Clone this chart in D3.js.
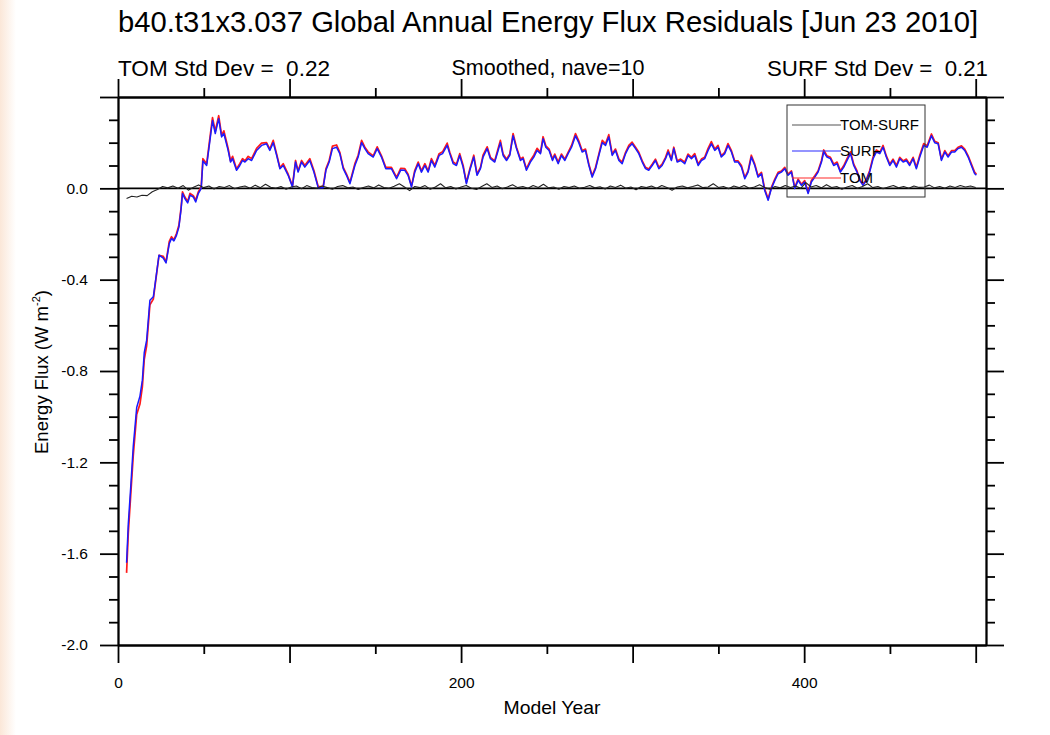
<!DOCTYPE html>
<html>
<head>
<meta charset="utf-8">
<script src="https://cdn.jsdelivr.net/npm/d3@7"></script>
<style>
  html, body { margin: 0; padding: 0; background: #ffffff; }
  svg text { font-family: "Liberation Sans", Arial, Helvetica, sans-serif; fill: #000; white-space: pre; }
</style>
</head>
<body>
<svg id="chart" width="1050" height="735"></svg>
<script>
// ---------------- DATA ----------------
const titleText = "b40.t31x3.037 Global Annual Energy Flux Residuals [Jun 23 2010]";
const leftSub = "TOM Std Dev =  0.22";
const centerSub = "Smoothed, nave=10";
const rightSub = "SURF Std Dev =  0.21";
const xAxisTitle = "Model Year";

const seriesNames = ["TOM-SURF", "SURF", "TOM"];

const years = [5,6,7.4,8.9,10.9,12.8,14.2,15.3,16.7,18.6,20.6,22.5,23.9,26.4,28,29.9,31.2,32.6,34.1,35.5,36.7,37.6,39,40.6,42,43.9,45.3,46.8,48.5,49.5,51.7,53.6,55.1,56.7,58.7,60.4,61.7,64.2,65.6,66.8,69.1,71,72.6,74,75.9,77.9,80.8,83.7,86.6,88.5,90.5,92.5,94.4,96.3,99.2,101.7,103.5,105,107,108.9,111.8,114.2,116.7,119.6,121.2,123.1,125,127.4,129.3,131.3,133.2,135.2,138.1,140,142,143.9,145.8,148.8,151.1,153.6,156.1,159.4,162.4,164.8,167.2,169.1,171.1,173,175,176.9,178.9,180.8,182.7,184.7,187.2,189.2,191.9,193.4,195.4,197.3,199.2,201.2,203.1,205.1,207.4,209.3,211.3,212.8,215.2,217.1,219.6,221.6,222.9,224.5,226.5,228.4,230.3,232.3,234.6,236.1,238.1,240.4,242.4,244.3,246.3,247.8,249.4,251.3,253.3,254.6,256.6,258.5,260.5,262.4,264.4,266.7,268.6,270.6,272.5,274.5,276.4,278.4,280.3,282.3,284.2,286.1,288.1,290,292,293.9,295.9,297.8,299.7,301.7,303.6,305.6,307.5,309.4,311.4,313.3,315.3,317.2,319.2,320.7,322.6,324,326,328,330.4,332.3,334.3,336.2,338.2,340.1,342,344,345.9,347.9,349.8,351.7,353.7,355.6,357.6,359.5,361.5,363.4,365.4,367.3,369.2,371.2,373.1,375.1,377,379,380.9,382.9,384.8,386.7,388.7,390.6,392.6,394.5,396.5,398.4,400.3,402.3,404.2,406.2,408.1,410.1,411.4,413.3,415.3,417.2,419.2,421.1,423.1,425,427,428.9,430.8,432.4,434.3,436.3,438.2,440.2,442.1,444.1,446,447.9,449.9,451.8,453.8,455.7,457.7,459.6,461.5,463.5,465.4,467.4,469.7,471.7,474.2,476.1,478.1,480,482,483.9,485.9,487.8,489.7,491.7,493.6,495.6,497.5,499.4,500.4];

const surf = [-1.64,-1.47,-1.31,-1.13,-0.96,-0.91,-0.84,-0.72,-0.665,-0.49,-0.475,-0.37,-0.293,-0.306,-0.327,-0.242,-0.22,-0.23,-0.206,-0.17,-0.096,-0.023,-0.045,-0.064,-0.03,-0.038,-0.06,-0.023,0.0,0.12,0.10,0.21,0.297,0.24,0.305,0.225,0.24,0.166,0.115,0.13,0.079,0.10,0.122,0.115,0.13,0.122,0.166,0.188,0.195,0.166,0.20,0.144,0.086,0.10,0.057,0.006,0.115,0.071,0.115,0.093,0.122,0.071,0.003,0.003,0.079,0.115,0.174,0.18,0.152,0.086,0.057,0.02,0.10,0.137,0.20,0.174,0.152,0.137,0.174,0.137,0.086,0.086,0.042,0.08,0.079,0.057,0.006,0.071,0.108,0.071,0.10,0.071,0.122,0.093,0.144,0.152,0.188,0.152,0.108,0.10,0.144,0.093,0.02,0.079,0.137,0.057,0.086,0.137,0.174,0.13,0.115,0.166,0.20,0.144,0.122,0.144,0.23,0.174,0.122,0.13,0.079,0.115,0.137,0.166,0.152,0.217,0.18,0.166,0.122,0.144,0.108,0.144,0.122,0.152,0.18,0.23,0.20,0.159,0.166,0.10,0.049,0.086,0.144,0.20,0.188,0.225,0.144,0.166,0.122,0.108,0.152,0.18,0.195,0.174,0.152,0.115,0.086,0.079,0.10,0.122,0.086,0.10,0.13,0.159,0.122,0.174,0.115,0.122,0.108,0.144,0.13,0.144,0.10,0.122,0.13,0.166,0.195,0.166,0.18,0.137,0.152,0.188,0.159,0.115,0.115,0.093,0.042,0.071,0.137,0.10,0.049,0.064,-0.009,-0.052,-0.001,0.035,0.064,0.071,0.086,0.057,0.071,-0.001,0.035,0.013,0.028,-0.023,0.028,0.049,0.071,0.115,0.159,0.137,0.13,0.10,0.108,0.071,0.093,0.122,0.152,0.10,0.071,0.035,0.013,0.035,0.071,0.13,0.159,0.152,0.18,0.137,0.10,0.122,0.093,0.13,0.115,0.122,0.10,0.13,0.086,0.137,0.188,0.18,0.23,0.20,0.195,0.122,0.159,0.137,0.159,0.159,0.174,0.18,0.166,0.137,0.10,0.064,0.058];

const tom = [-1.684,-1.51,-1.345,-1.17,-0.99,-0.945,-0.87,-0.75,-0.69,-0.51,-0.485,-0.375,-0.293,-0.298,-0.322,-0.232,-0.212,-0.225,-0.198,-0.162,-0.09,-0.015,-0.038,-0.058,-0.022,-0.032,-0.052,-0.016,0.006,0.13,0.108,0.222,0.31,0.25,0.318,0.232,0.252,0.175,0.12,0.14,0.085,0.108,0.13,0.12,0.14,0.13,0.175,0.198,0.2,0.172,0.21,0.15,0.09,0.108,0.062,0.01,0.122,0.076,0.122,0.1,0.13,0.078,0.008,0.008,0.085,0.122,0.185,0.19,0.158,0.092,0.062,0.026,0.108,0.145,0.21,0.18,0.16,0.142,0.182,0.142,0.092,0.092,0.048,0.088,0.086,0.062,0.01,0.078,0.115,0.076,0.108,0.076,0.13,0.1,0.152,0.16,0.198,0.158,0.115,0.106,0.152,0.1,0.026,0.085,0.145,0.062,0.092,0.145,0.182,0.136,0.12,0.175,0.21,0.15,0.128,0.15,0.24,0.18,0.128,0.136,0.085,0.122,0.145,0.175,0.158,0.226,0.186,0.172,0.128,0.15,0.115,0.15,0.128,0.158,0.188,0.24,0.208,0.165,0.172,0.106,0.055,0.092,0.15,0.21,0.195,0.235,0.15,0.172,0.128,0.115,0.158,0.188,0.202,0.18,0.158,0.12,0.092,0.085,0.106,0.128,0.092,0.106,0.136,0.168,0.128,0.18,0.12,0.128,0.115,0.15,0.136,0.152,0.106,0.128,0.136,0.175,0.205,0.172,0.188,0.142,0.158,0.196,0.165,0.12,0.12,0.1,0.048,0.076,0.145,0.106,0.055,0.07,-0.003,-0.046,0.004,0.04,0.07,0.076,0.092,0.062,0.076,0.004,0.04,0.018,0.034,-0.018,0.034,0.055,0.076,0.122,0.168,0.142,0.136,0.106,0.115,0.076,0.1,0.13,0.16,0.106,0.076,0.04,0.018,0.04,0.078,0.138,0.168,0.158,0.188,0.142,0.106,0.128,0.1,0.136,0.12,0.128,0.106,0.136,0.092,0.145,0.196,0.186,0.238,0.206,0.2,0.128,0.165,0.142,0.165,0.165,0.18,0.186,0.172,0.142,0.106,0.07,0.062];

const diffStartYear = 5;
const diffStepYears = 3;
const diff = [-0.045,-0.035,-0.038,-0.03,-0.032,-0.015,-0.005,0.008,0.002,0.01,0.0,0.012,-0.008,0.005,0.015,0.003,0.01,-0.003,0.008,0.004,0.012,-0.002,0.006,0.01,0.0,0.014,0.003,0.018,0.005,0.0,0.008,-0.004,0.006,0.01,-0.002,0.012,0.004,0.0,0.01,0.003,-0.004,0.008,0.012,0.002,0.006,-0.005,0.004,0.01,0.002,0.015,0.004,0.0,0.009,0.02,0.006,-0.01,0.008,0.003,0.012,-0.004,0.006,0.02,0.002,0.008,-0.003,0.006,0.012,0.0,-0.005,0.008,0.02,0.004,0.01,-0.002,0.006,0.016,0.003,0.008,0.0,0.012,0.004,0.018,0.002,0.006,-0.004,0.008,0.003,0.01,0.0,0.005,0.012,0.002,0.007,-0.003,0.01,0.004,0.014,0.0,0.006,-0.006,0.008,0.003,0.01,0.0,0.012,0.004,-0.008,0.006,0.01,0.002,0.008,0.015,0.003,0.006,0.02,0.004,0.008,-0.002,0.01,0.003,0.012,0.0,0.006,0.016,0.004,-0.004,0.008,0.002,0.012,0.004,0.01,0.0,0.025,0.006,0.012,0.002,0.016,0.004,0.008,-0.004,0.006,0.012,0.0,0.008,0.02,0.003,0.008,-0.002,0.006,0.012,0.002,0.008,0.0,0.01,0.004,0.006,0.014,0.002,0.008,0.0,0.01,0.004,0.012,0.006,0.01,0.004];

const xMajorTicks = [0, 100, 200, 300, 400, 500];
const xLabeledTicks = [0, 200, 400];
const xMinorTicks = [50, 150, 250, 350, 450];
const yMajorTicks = [-2.0, -1.6, -1.2, -0.8, -0.4, 0.0, 0.4];
const yLabeledTicks = [-2.0, -1.6, -1.2, -0.8, -0.4, 0.0];
const yMinorTicks = [-1.9,-1.8,-1.7,-1.5,-1.4,-1.3,-1.1,-1.0,-0.9,-0.7,-0.6,-0.5,-0.3,-0.2,-0.1,0.1,0.2,0.3];

// ---------------- LAYOUT ----------------
const svg = d3.select("#chart");
const W = 1050, H = 735;
const plot = { left: 118, right: 986, top: 97, bottom: 645 };

// faint tinted strip at the left edge
const defs = svg.append("defs");
const grad = defs.append("linearGradient").attr("id", "edge").attr("x1", "0%").attr("x2", "100%");
grad.append("stop").attr("offset", "0%").attr("stop-color", "#fbe7d8");
grad.append("stop").attr("offset", "100%").attr("stop-color", "#ffffff");
svg.append("rect").attr("x", 0).attr("y", 0).attr("width", 16).attr("height", H).attr("fill", "url(#edge)");

const x = d3.scaleLinear().domain([0, 506]).range([plot.left, plot.right]);
const y = d3.scaleLinear().domain([-2.0, 0.4]).range([plot.bottom, plot.top]);

// ---------------- AXES ----------------
const axisStroke = 1.8;
function styleAxis(g) {
  g.selectAll("path.domain").attr("stroke", "#000").attr("stroke-width", axisStroke);
  g.selectAll(".tick line").attr("stroke", "#000").attr("stroke-width", axisStroke);
  g.selectAll(".tick text").attr("font-family", "Liberation Sans, Arial, sans-serif").attr("font-size", 15.5).attr("fill", "#000");
}
const fmtY = v => yLabeledTicks.some(t => Math.abs(t - v) < 1e-9) ? v.toFixed(1) : "";
const fmtX = v => xLabeledTicks.includes(v) ? String(v) : "";

// bottom
svg.append("g").attr("transform", `translate(0,${plot.bottom})`)
  .call(d3.axisBottom(x).tickValues(xMinorTicks).tickSize(9).tickSizeOuter(0).tickFormat(""))
  .call(styleAxis);
svg.append("g").attr("transform", `translate(0,${plot.bottom})`)
  .call(d3.axisBottom(x).tickValues(xMajorTicks).tickSize(18).tickSizeOuter(0).tickPadding(14).tickFormat(fmtX))
  .call(styleAxis);
// top
svg.append("g").attr("transform", `translate(0,${plot.top})`)
  .call(d3.axisTop(x).tickValues(xMinorTicks).tickSize(9).tickSizeOuter(0).tickFormat(""))
  .call(styleAxis);
svg.append("g").attr("transform", `translate(0,${plot.top})`)
  .call(d3.axisTop(x).tickValues(xMajorTicks).tickSize(18).tickSizeOuter(0).tickFormat(""))
  .call(styleAxis);
// left
svg.append("g").attr("transform", `translate(${plot.left},0)`)
  .call(d3.axisLeft(y).tickValues(yMinorTicks).tickSize(9).tickSizeOuter(0).tickFormat(""))
  .call(styleAxis);
svg.append("g").attr("transform", `translate(${plot.left},0)`)
  .call(d3.axisLeft(y).tickValues(yMajorTicks).tickSize(18).tickSizeOuter(0).tickPadding(12).tickFormat(fmtY))
  .call(styleAxis);
// right
svg.append("g").attr("transform", `translate(${plot.right},0)`)
  .call(d3.axisRight(y).tickValues(yMinorTicks).tickSize(9).tickSizeOuter(0).tickFormat(""))
  .call(styleAxis);
svg.append("g").attr("transform", `translate(${plot.right},0)`)
  .call(d3.axisRight(y).tickValues(yMajorTicks).tickSize(18).tickSizeOuter(0).tickFormat(""))
  .call(styleAxis);

// zero reference line
svg.append("line")
  .attr("x1", x(0)).attr("x2", x(506)).attr("y1", y(0)).attr("y2", y(0))
  .attr("stroke", "#000").attr("stroke-width", 1.6);

// ---------------- SERIES ----------------
const clip = defs.append("clipPath").attr("id", "plotclip");
clip.append("rect").attr("x", plot.left).attr("y", plot.top).attr("width", plot.right - plot.left).attr("height", plot.bottom - plot.top);

const line = d3.line().x(d => x(d[0])).y(d => y(d[1]));
const gLines = svg.append("g").attr("clip-path", "url(#plotclip)");

const tomPts = years.map((yr, i) => [yr, tom[i]]).filter(d => d[1] !== undefined);
const surfPts = years.map((yr, i) => [yr, surf[i]]).filter(d => d[1] !== undefined);
const diffPts = diff.map((v, i) => [diffStartYear + i * diffStepYears, v]).filter(d => d[0] <= 501);

gLines.append("path").datum(tomPts).attr("d", line)
  .attr("fill", "none").attr("stroke", "#ff1a1a").attr("stroke-width", 1.7).attr("stroke-linejoin", "round");
gLines.append("path").datum(surfPts).attr("d", line)
  .attr("fill", "none").attr("stroke", "#1a1aff").attr("stroke-width", 1.5).attr("stroke-linejoin", "round");
gLines.append("path").datum(diffPts).attr("d", line)
  .attr("fill", "none").attr("stroke", "#222").attr("stroke-width", 1.1).attr("stroke-linejoin", "round");

// ---------------- LEGEND ----------------
const lg = svg.append("g");
lg.append("rect").attr("x", 787).attr("y", 105).attr("width", 138).attr("height", 92)
  .attr("fill", "none").attr("stroke", "#333").attr("stroke-width", 1);
const legendColors = ["#555", "#2a2aff", "#ff2a2a"];
const legendY = [125, 151, 178];
seriesNames.forEach((n, i) => {
  lg.append("line").attr("x1", 792).attr("x2", 841).attr("y1", legendY[i]).attr("y2", legendY[i])
    .attr("stroke", legendColors[i]).attr("stroke-width", 1.2);
  lg.append("text").attr("x", 840).attr("y", legendY[i] + 5).attr("font-size", 15).text(n);
});

// ---------------- TEXTS ----------------
svg.append("text").attr("x", 548).attr("y", 32).attr("text-anchor", "middle")
  .attr("font-size", 29).attr("textLength", 860).attr("lengthAdjust", "spacingAndGlyphs").text(titleText);
svg.append("text").attr("x", 118).attr("y", 76).attr("text-anchor", "start")
  .attr("font-size", 21.5).attr("textLength", 212).attr("lengthAdjust", "spacingAndGlyphs").text(leftSub);
svg.append("text").attr("x", 548).attr("y", 75).attr("text-anchor", "middle")
  .attr("font-size", 21.5).attr("textLength", 193).attr("lengthAdjust", "spacingAndGlyphs").text(centerSub);
svg.append("text").attr("x", 988).attr("y", 76).attr("text-anchor", "end")
  .attr("font-size", 21.5).attr("textLength", 221).attr("lengthAdjust", "spacingAndGlyphs").text(rightSub);

svg.append("text").attr("x", 552).attr("y", 714).attr("text-anchor", "middle")
  .attr("font-size", 19).attr("textLength", 97).attr("lengthAdjust", "spacingAndGlyphs").text(xAxisTitle);

const yt = svg.append("text").attr("transform", "translate(48,372) rotate(-90)")
  .attr("text-anchor", "middle").attr("font-size", 18.5);
yt.append("tspan").text("Energy Flux (W m");
yt.append("tspan").attr("font-size", 11).attr("dy", -8).text("-2");
yt.append("tspan").attr("dy", 8).text(")");
</script>
</body>
</html>
